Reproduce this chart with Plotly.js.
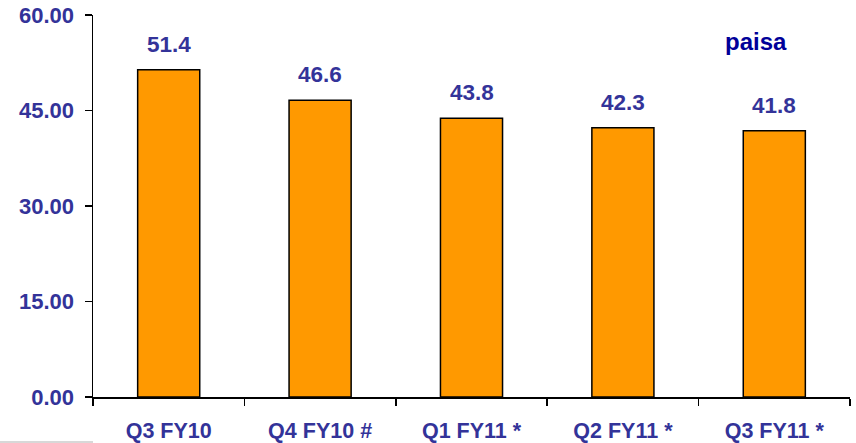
<!DOCTYPE html>
<html>
<head>
<meta charset="utf-8">
<script src="https://cdn.plot.ly/plotly-3.0.1.min.js"></script>
<style>html,body{margin:0;padding:0;background:#fff;}#chart{width:856px;height:443px;}</style>
</head>
<body>
<div id="chart"></div>
<script>
const categories = ["Q3 FY10", "Q4 FY10 #", "Q1 FY11 *", "Q2 FY11 *", "Q3 FY11 *"];
const values = [51.4, 46.6, 43.8, 42.3, 41.8];
const valueLabels = ["51.4", "46.6", "43.8", "42.3", "41.8"];
const yTickVals = [0, 15, 30, 45, 60];
const yTickText = ["0.00", "15.00", "30.00", "45.00", "60.00"];
const unitLabel = "paisa";

const FONT = "Arial, 'Liberation Sans', sans-serif";
const BLUE = "#333399";

const trace = {
  type: "bar",
  x: categories,
  y: values,
  marker: { color: "#FF9900", line: { color: "#000000", width: 1.5 } },
  width: 0.41,
  hoverinfo: "none"
};

const annotations = categories.map((c, i) => ({
  x: c, y: values[i], xref: "x", yref: "y",
  text: valueLabels[i], showarrow: false,
  yanchor: "bottom", yshift: 11,
  font: { family: FONT, size: 22.5, color: BLUE, weight: 700 }
}));
annotations.push({
  x: 0.876, y: 0.93, xref: "paper", yref: "paper",
  text: unitLabel, showarrow: false, xanchor: "center", yanchor: "middle",
  font: { family: FONT, size: 24, color: "#000099", weight: 700 }
});

const layout = {
  width: 856, height: 443,
  margin: { l: 93, r: 6, t: 15, b: 46 },
  paper_bgcolor: "#ffffff", plot_bgcolor: "#ffffff",
  showlegend: false,
  xaxis: {
    type: "category",
    showline: true, linecolor: "#000000", linewidth: 1.5,
    ticks: "outside", tickson: "boundaries", ticklen: 7, tickwidth: 1.5, tickcolor: "#000000",
    tickfont: { family: FONT, size: 21.5, color: BLUE, weight: 700 },
    ticklabelstandoff: 14,
    showgrid: false, zeroline: false, fixedrange: true
  },
  yaxis: {
    range: [0, 60],
    tickvals: yTickVals, ticktext: yTickText,
    showline: true, linecolor: "#000000", linewidth: 1.5,
    ticks: "outside", ticklen: 7, tickwidth: 1.5, tickcolor: "#000000",
    tickfont: { family: FONT, size: 22, color: BLUE, weight: 700 },
    ticklabelstandoff: 6,
    showgrid: false, zeroline: false, fixedrange: true
  },
  annotations: annotations,
  shapes: [{
    type: "line", xref: "paper", yref: "paper",
    x0: -93/757, x1: 0, y0: -45/382, y1: -45/382,
    line: { color: "#d8d8d8", width: 2 }
  }]
};

Plotly.newPlot("chart", [trace], layout, { displayModeBar: false, staticPlot: true });
</script>
</body>
</html>
